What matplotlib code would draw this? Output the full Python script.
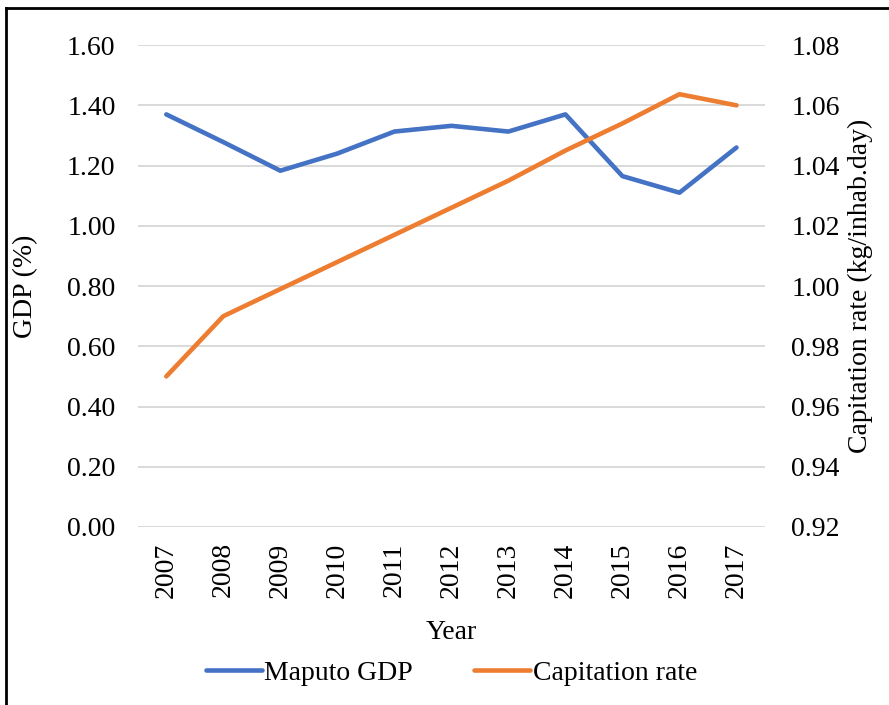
import matplotlib.pyplot as plt
from matplotlib.lines import Line2D

plt.rcParams['font.family'] = ['Liberation Serif', 'DejaVu Serif']

years = ['2007', '2008', '2009', '2010', '2011', '2012', '2013', '2014', '2015', '2016', '2017']
gdp = [1.37, 1.278, 1.183, 1.24, 1.313, 1.332, 1.313, 1.37, 1.165, 1.11, 1.26]
capitation = [0.970, 0.990, 0.999, 1.008, 1.017, 1.026, 1.035, 1.045, 1.054, 1.0637, 1.060]

left_ticks = [0.0, 0.2, 0.4, 0.6, 0.8, 1.0, 1.2, 1.4, 1.6]
right_ticks = [0.92, 0.94, 0.96, 0.98, 1.00, 1.02, 1.04, 1.06, 1.08]

blue = '#4472C4'
orange = '#ED7D31'
fs = 20

fig = plt.figure(figsize=(8.89, 7.05), dpi=100)
ax = fig.add_axes([0.155, 0.2525, 0.7055, 0.6835])
ax2 = ax.twinx()

x = range(len(years))
ax.plot(x, gdp, color=blue, lw=3.3, solid_capstyle='round', solid_joinstyle='round', zorder=3)
ax2.plot(x, capitation, color=orange, lw=3.3, solid_capstyle='round', solid_joinstyle='round', zorder=3)

ax.set_xlim(-0.5, len(years) - 0.5)
ax.set_ylim(0, 1.6)
ax2.set_ylim(0.92, 1.08)
ax.set_yticks(left_ticks)
ax.set_yticklabels(['{:.2f}'.format(t) for t in left_ticks])
ax2.set_yticks(right_ticks)
ax2.set_yticklabels(['{:.2f}'.format(t) for t in right_ticks])
ax.set_xticks(list(x))
ax.set_xticklabels(years, rotation=90)

ax.grid(axis='y', color='#D9D9D9', lw=1.4)
ax.set_axisbelow(True)
for a in (ax, ax2):
    for s in a.spines.values():
        s.set_visible(False)
    a.tick_params(length=0, labelsize=fs)
ax.tick_params(axis='y', pad=16)
ax2.tick_params(axis='y', pad=19)
ax.tick_params(axis='x', pad=11)

ax.set_xlabel('Year', fontsize=fs, labelpad=16)
ax.set_ylabel('GDP (%)', fontsize=fs, labelpad=21)
ax2.set_ylabel('Capitation rate (kg/inhab.day)', fontsize=fs, labelpad=6)

handles = [Line2D([], [], color=blue, lw=3.3, solid_capstyle='round'),
           Line2D([], [], color=orange, lw=3.3, solid_capstyle='round')]
fig.legend(handles, ['Maputo GDP', 'Capitation rate'], loc='center',
           bbox_to_anchor=(0.508, 0.045), ncol=2, frameon=False, fontsize=fs,
           handlelength=2.0, handletextpad=0.1, columnspacing=2.2)

# outer frame (left and top edges visible)
fig.add_artist(Line2D([6 / 889, 6 / 889], [0, 1 - 8 / 705], color='black', lw=2, transform=fig.transFigure))
fig.add_artist(Line2D([6 / 889, 1], [1 - 8 / 705, 1 - 8 / 705], color='black', lw=2, transform=fig.transFigure))

fig.savefig('out.png', dpi=100)
